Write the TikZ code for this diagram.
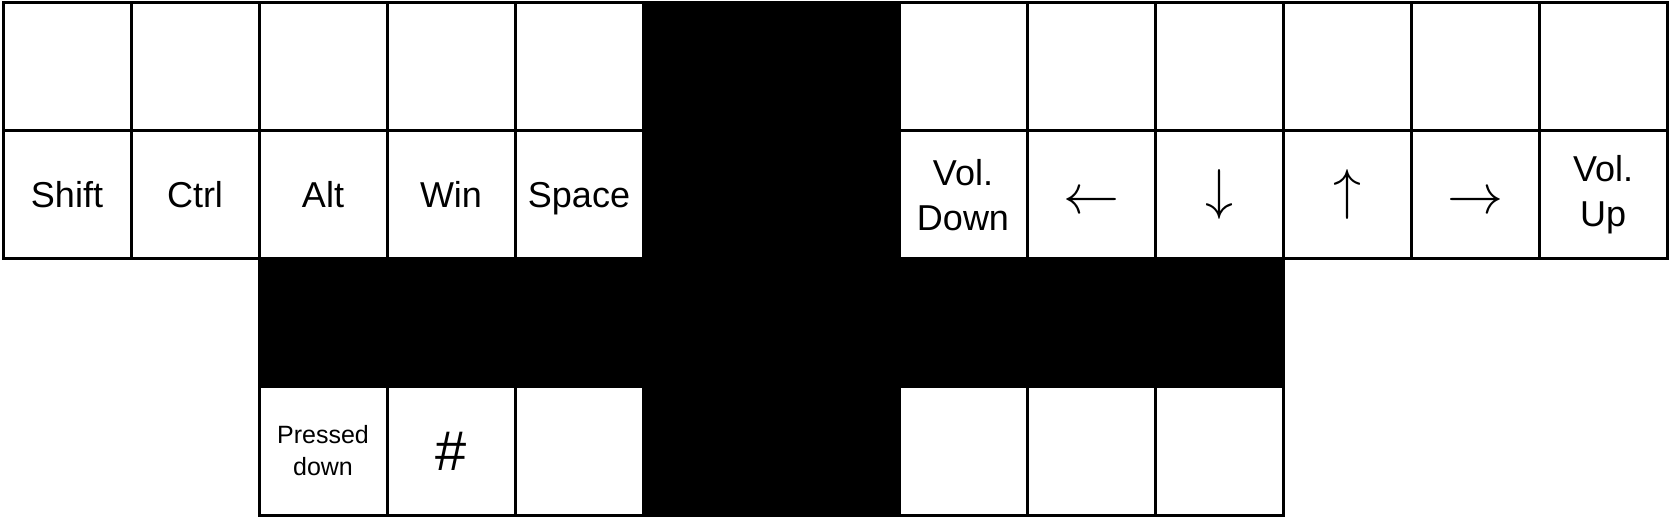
\RequirePackage{fix-cm}
\documentclass[tikz,border=0pt]{standalone}
\usepackage{fontspec}
\setmainfont{Liberation Sans}
\begin{document}
\begin{tikzpicture}[x=0.5pt,y=-0.5pt,
  key/.style={draw=black, line width=1.5pt, fill=white, minimum width=64pt, minimum height=64pt,
    inner sep=0pt, align=center, font=\fontsize{18}{22.5}\selectfont},
  one/.style={text height=12.9pt, text depth=0pt},
  blk/.style={draw=black, line width=1.5pt, fill=black, minimum width=64pt, minimum height=64pt, inner sep=0pt},
  small/.style={font=\fontsize{12.5}{16}\selectfont},
  big/.style={font=\fontsize{28}{28}\selectfont, text height=19.5pt, text depth=0pt},
  arr/.style={font=\fontsize{28}{28}\selectfont},
  harr/.style={font=\fontsize{28}{28}\selectfont, text height=14pt, text depth=0pt}]
\useasboundingbox (0,0) rectangle (1669,517);
% top row empty keys
\foreach \c in {0,1,2,3,4,7,8,9,10,11,12}
  \node[key] (t\c) at (67+128*\c, 67) {};
% black cells
\foreach \r in {0,1,2,3}
  \foreach \c in {5,6}
    \node[blk] (b\r\c) at (67+128*\c, 67+128*\r) {};
\foreach \c in {2,3,4,7,8,9}
  \node[blk] (m\c) at (67+128*\c, 323) {};
% second row
\node[key,one] (shift) at (67,195) {Shift};
\node[key,one] (ctrl) at (195,195) {Ctrl};
\node[key,one] (alt) at (323,195) {Alt};
\node[key,one] (win) at (451,195) {Win};
\node[key,one] (space) at (579,195) {Space};
\node[key] (voldown) at (963,195) {Vol.\\Down};
\node[key,harr] (left) at (1091,195) {\raisebox{-2.5pt}{$\leftarrow$}};
\node[key,arr] (down) at (1219,195) {$\downarrow$};
\node[key,arr] (up) at (1347,195) {$\uparrow$};
\node[key,harr] (right) at (1475,195) {\raisebox{-2.5pt}{$\rightarrow$}};
\node[key] (volup) at (1603,195) {Vol.\\Up};
% bottom row
\node[key,small] (pressed) at (323,451) {Pressed\\down};
\node[key,big] (hash) at (451,451) {\#};
\node[key] (e4) at (579,451) {};
\node[key] (e7) at (963,451) {};
\node[key] (e8) at (1091,451) {};
\node[key] (e9) at (1219,451) {};
\end{tikzpicture}
\end{document}
